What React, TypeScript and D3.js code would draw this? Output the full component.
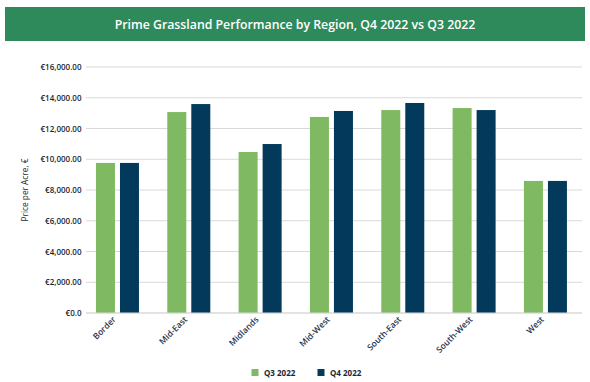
import React from "react";
import * as d3 from "d3";

const categories = ["Border", "Mid-East", "Midlands", "Mid-West", "South-East", "South-West", "West"];
const seriesNames = ["Q3 2022", "Q4 2022"];
const q3Values = [9760, 13070, 10470, 12750, 13200, 13330, 8590];
const q4Values = [9760, 13590, 10990, 13140, 13660, 13200, 8590];
const yTicks = [0, 2000, 4000, 6000, 8000, 10000, 12000, 14000, 16000];

const W = 590;
const H = 382;
const colors = ["#7FBA62", "#033A5C"];
const FONT = "'Open Sans', 'Noto Sans', sans-serif";

export default function App() {
  const plotLeft = 86;
  const plotRight = 582;
  const bandLeft = 81.8;
  const bandRight = 581.1;
  const y = d3.scaleLinear().domain([0, 16000]).range([313, 67]);
  const x0 = d3.scaleBand<string>().domain(categories).range([bandLeft, bandRight]).paddingInner(0).paddingOuter(0);
  const groupW = 43;
  const x1 = d3.scaleBand<string>().domain(seriesNames).range([0, groupW]).paddingInner(5 / 24).paddingOuter(0);
  const barW = x1.bandwidth();
  const series = [q3Values, q4Values];
  const fmt = (v: number) => (v === 0 ? "€0.0" : "€" + d3.format(",.2f")(v));

  return (
    <svg width={W} height={H} style={{ position: "absolute", left: 0, top: 0 }} fontFamily={FONT}>
      <rect x={0} y={0} width={W} height={H} fill="#ffffff" />
      <rect x={5} y={7} width={580} height={34} fill="#2F8A5B" />
      <text x={295} y={28.5} textAnchor="middle" fill="#ffffff" fontSize={12.3} fontWeight={600}>
        Prime Grassland Performance by Region, Q4 2022 vs Q3 2022
      </text>
      {yTicks.map((t) => (
        <g key={t}>
          <line x1={plotLeft} x2={plotRight} y1={y(t)} y2={y(t)} stroke="#D9D9D9" strokeWidth={1} />
          <text x={81.5} y={y(t) + 3} textAnchor="end" fontSize={8} fontWeight={600} fill="#1A2530">
            {fmt(t)}
          </text>
        </g>
      ))}
      <text transform={`translate(28,190) rotate(-90)`} textAnchor="middle" fontSize={8.3} fill="#1A2530">
        Price per Acre, €
      </text>
      {categories.map((c, i) => {
        const cx = (x0(c) as number) + x0.bandwidth() / 2;
        const gx = cx - groupW / 2;
        return (
          <g key={c}>
            {series.map((s, j) => (
              <rect
                key={j}
                x={gx + (x1(seriesNames[j]) as number)}
                y={y(s[i])}
                width={barW}
                height={y(0) - y(s[i])}
                fill={colors[j]}
              />
            ))}
            <text
              transform={`translate(${cx - 1},${320}) rotate(-45)`}
              textAnchor="end"
              fontSize={8.5}
              fontWeight={600}
              fill="#1F3550"
            >
              {c}
            </text>
          </g>
        );
      })}
      <line x1={plotLeft} x2={plotRight} y1={y(0)} y2={y(0)} stroke="#D9D9D9" strokeWidth={1} />
      {seriesNames.map((n, j) => {
        const lx = [251.5, 317.5][j];
        return (
          <g key={n}>
            <rect x={lx} y={369} width={7} height={7} fill={colors[j]} />
            <text x={lx + 12.5} y={375.5} fontSize={8} fontWeight={700} fill="#1A2530">
              {n}
            </text>
          </g>
        );
      })}
    </svg>
  );
}
